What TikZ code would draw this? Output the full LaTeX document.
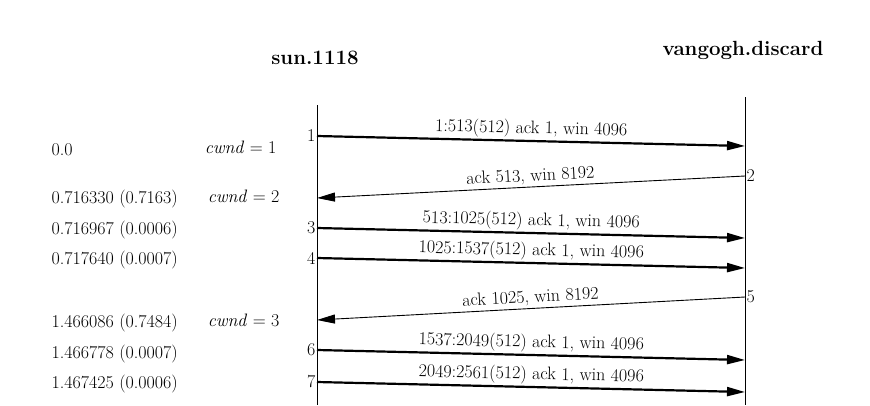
\documentclass[tikz,border=0pt]{standalone}
\usetikzlibrary{arrows.meta}

\begin{document}
\begin{tikzpicture}[x=1pt,y=-1pt,
    every node/.style={font=\fontsize{18}{20}\selectfont},
    every label/.style={font=\fontsize{18}{20}\selectfont,inner sep=1.5pt},
    host/.style={font=\bfseries\fontsize{20.5}{23}\selectfont},
    seg/.style={line width=2.2pt,-{Triangle[length=18pt,width=9pt]}},
    ack/.style={line width=0.9pt,-{Triangle[length=18pt,width=9pt]}},
    msg/.style={above,sloped,inner sep=2pt}]
  \useasboundingbox (0,0) rectangle (870,405);
  % hosts and time lines
  \node[host] (sun) at (315,58) {sun.1118};
  \node[host] (van) at (743,50) {vangogh.discard};
  \coordinate (stop) at (317,105);
  \coordinate (sbot) at (317,405);
  \coordinate (vtop) at (745,97);
  \coordinate (vbot) at (745,405);
  \draw[line width=0.9pt] (stop) -- (sbot);
  \draw[line width=0.9pt] (vtop) -- (vbot);
  % segments
  \coordinate [label=left:{1}] (s1) at (317,136);
  \coordinate (v1) at (745,146);
  \draw[seg] (s1) -- node[msg]{1:513(512) ack 1, win 4096} (v1);
  \coordinate [label=right:{2}] (v2) at (745,176);
  \coordinate (s2) at (317,198);
  \draw[ack] (v2) -- node[msg]{ack 513, win 8192} (s2);
  \coordinate [label=left:{3}] (s3) at (317,228);
  \coordinate (v3) at (745,238);
  \draw[seg] (s3) -- node[msg]{513:1025(512) ack 1, win 4096} (v3);
  \coordinate [label=left:{4}] (s4) at (317,258);
  \coordinate (v4) at (745,268);
  \draw[seg] (s4) -- node[msg]{1025:1537(512) ack 1, win 4096} (v4);
  \coordinate [label=right:{5}] (v5) at (745,297);
  \coordinate (s5) at (317,320);
  \draw[ack] (v5) -- node[msg]{ack 1025, win 8192} (s5);
  \coordinate [label=left:{6}] (s6) at (317,350);
  \coordinate (v6) at (745,360);
  \draw[seg] (s6) -- node[msg]{1537:2049(512) ack 1, win 4096} (v6);
  \coordinate [label=left:{7}] (s7) at (317,382);
  \coordinate (v7) at (745,392);
  \draw[seg] (s7) -- node[msg]{2049:2561(512) ack 1, win 4096} (v7);
  % times
  \node[anchor=west] (t1) at (48,150) {0.0};
  \node[anchor=west] (t2) at (48,199) {0.716330 (0.7163)};
  \node[anchor=west] (t3) at (48,230) {0.716967 (0.0006)};
  \node[anchor=west] (t4) at (48,260) {0.717640 (0.0007)};
  \node[anchor=west] (t5) at (48,323) {1.466086 (0.7484)};
  \node[anchor=west] (t6) at (48,354) {1.466778 (0.0007)};
  \node[anchor=west] (t7) at (48,384) {1.467425 (0.0006)};
  % congestion window
  \node[anchor=east] (c1) at (280,147) {\emph{cwnd} = 1};
  \node[anchor=east] (c2) at (283,196) {\emph{cwnd} = 2};
  \node[anchor=east] (c3) at (283,320) {\emph{cwnd} = 3};
\end{tikzpicture}
\end{document}
